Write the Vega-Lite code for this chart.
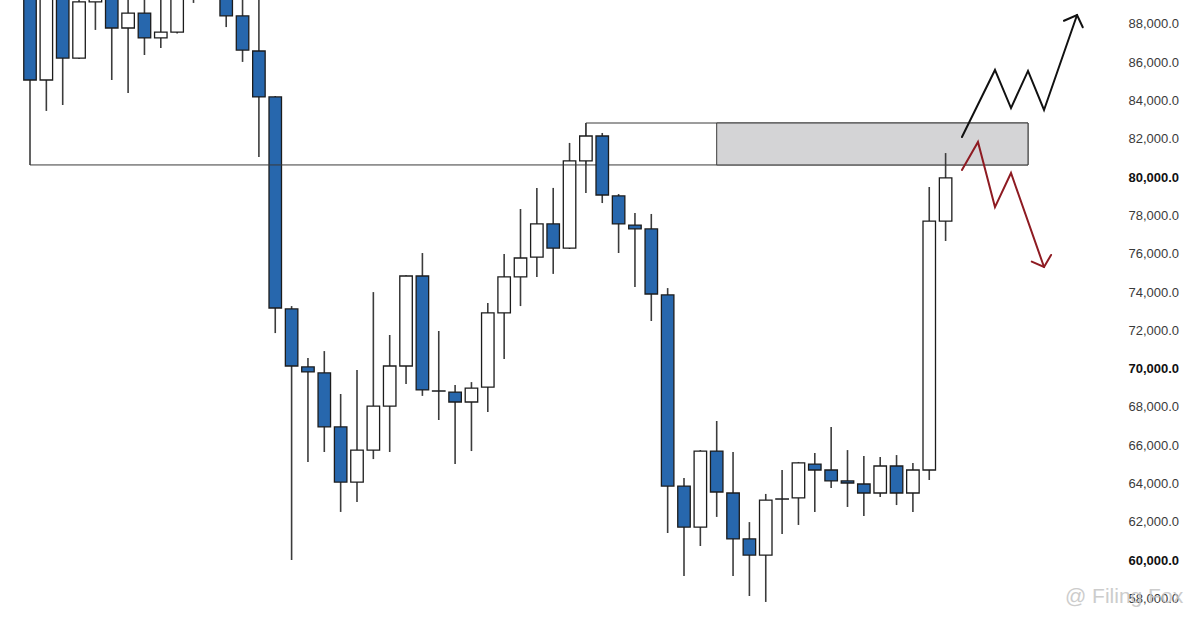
{
  "$schema": "https://vega.github.io/schema/vega-lite/v6.json",
  "width": 1128,
  "height": 621,
  "autosize": "none",
  "padding": {"left": 0, "top": 0, "right": 72, "bottom": 0},
  "background": "white",
  "config": {"view": {"stroke": null}, "font": "Liberation Sans"},
  "resolve": {"axis": {"y": "independent", "x": "independent"}},
  "datasets": {
    "candles": [
      {"i":0,"o":91000,"h":91500,"l":80640,"c":85075},
      {"i":1,"o":85075,"h":91500,"l":83460,"c":90500},
      {"i":2,"o":90200,"h":91000,"l":83770,"c":86220},
      {"i":3,"o":86220,"h":89400,"l":86170,"c":89150},
      {"i":4,"o":89150,"h":90200,"l":87690,"c":89800},
      {"i":5,"o":90500,"h":91000,"l":85075,"c":87790},
      {"i":6,"o":87790,"h":90000,"l":84400,"c":88570},
      {"i":7,"o":88570,"h":89800,"l":86380,"c":87270},
      {"i":8,"o":87270,"h":89500,"l":86750,"c":87580},
      {"i":9,"o":87580,"h":90500,"l":87500,"c":90000},
      {"i":10,"o":90800,"h":91200,"l":89100,"c":89700},
      {"i":11,"o":91500,"h":92000,"l":89600,"c":90500},
      {"i":12,"o":90000,"h":90500,"l":87840,"c":88420},
      {"i":13,"o":88420,"h":89800,"l":86020,"c":86640},
      {"i":14,"o":86590,"h":89600,"l":81060,"c":84190},
      {"i":15,"o":84190,"h":84240,"l":71860,"c":73170},
      {"i":16,"o":73120,"h":73270,"l":60010,"c":70140},
      {"i":17,"o":70090,"h":70560,"l":65130,"c":69830},
      {"i":18,"o":69780,"h":70920,"l":65650,"c":66960},
      {"i":19,"o":66960,"h":68680,"l":62520,"c":64080},
      {"i":20,"o":64080,"h":69930,"l":63040,"c":65750},
      {"i":21,"o":65750,"h":74000,"l":65280,"c":68050},
      {"i":22,"o":68050,"h":71760,"l":65650,"c":70140},
      {"i":23,"o":70140,"h":74880,"l":69200,"c":74840},
      {"i":24,"o":74840,"h":76040,"l":68580,"c":68890},
      {"i":25,"o":68840,"h":71970,"l":67320,"c":68830},
      {"i":26,"o":68780,"h":69150,"l":65020,"c":68260},
      {"i":27,"o":68260,"h":69300,"l":65700,"c":68990},
      {"i":28,"o":69040,"h":73430,"l":67740,"c":72910},
      {"i":29,"o":72910,"h":75990,"l":70510,"c":74790},
      {"i":30,"o":74790,"h":78340,"l":73270,"c":75780},
      {"i":31,"o":75830,"h":79440,"l":74790,"c":77560},
      {"i":32,"o":77560,"h":79440,"l":74950,"c":76300},
      {"i":33,"o":76300,"h":81790,"l":76250,"c":80850},
      {"i":34,"o":80850,"h":82830,"l":79180,"c":82150},
      {"i":35,"o":82150,"h":82310,"l":78650,"c":79070},
      {"i":36,"o":79020,"h":79120,"l":76040,"c":77560},
      {"i":37,"o":77500,"h":78130,"l":74270,"c":77300},
      {"i":38,"o":77300,"h":78080,"l":72490,"c":73900},
      {"i":39,"o":73850,"h":74210,"l":61420,"c":63870},
      {"i":40,"o":63870,"h":64290,"l":59170,"c":61730},
      {"i":41,"o":61730,"h":65750,"l":60740,"c":65700},
      {"i":42,"o":65700,"h":67270,"l":62260,"c":63560},
      {"i":43,"o":63510,"h":65650,"l":59170,"c":61110},
      {"i":44,"o":61110,"h":61990,"l":58130,"c":60270},
      {"i":45,"o":60270,"h":63460,"l":57820,"c":63140},
      {"i":46,"o":63200,"h":64710,"l":61370,"c":63190},
      {"i":47,"o":63250,"h":65130,"l":61840,"c":65080},
      {"i":48,"o":65020,"h":65600,"l":62520,"c":64710},
      {"i":49,"o":64710,"h":66960,"l":63770,"c":64140},
      {"i":50,"o":64140,"h":65750,"l":62780,"c":64030},
      {"i":51,"o":63980,"h":65440,"l":62310,"c":63510},
      {"i":52,"o":63510,"h":65390,"l":63300,"c":64920},
      {"i":53,"o":64920,"h":65490,"l":62880,"c":63510},
      {"i":54,"o":63510,"h":65080,"l":62520,"c":64710},
      {"i":55,"o":64710,"h":79490,"l":64190,"c":77710},
      {"i":56,"o":77710,"h":81260,"l":76670,"c":79960}
    ],
    "zones": [
      {"x1":34,"x2":61.04,"y1":80640,"y2":82830,"part":"left"},
      {"x1":42,"x2":61.04,"y1":80640,"y2":82830,"part":"right"}
    ],
    "level": [{"x1":0,"x2":34,"y":80640}],
    "arrows": [
      {"arrow":"up","seg":"u","ord":1,"x":57.0,"y":82100},
      {"arrow":"up","seg":"u","ord":2,"x":59.02,"y":85600},
      {"arrow":"up","seg":"u","ord":3,"x":60.0,"y":83610},
      {"arrow":"up","seg":"u","ord":4,"x":61.04,"y":85550},
      {"arrow":"up","seg":"u","ord":5,"x":62.02,"y":83510},
      {"arrow":"up","seg":"u","ord":6,"x":64.04,"y":88470},
      {"arrow":"up","seg":"uh","ord":1,"x":63.24,"y":88170},
      {"arrow":"up","seg":"uh","ord":2,"x":64.04,"y":88470},
      {"arrow":"up","seg":"uh","ord":3,"x":64.39,"y":87830},
      {"arrow":"down","seg":"d","ord":1,"x":57.0,"y":80380},
      {"arrow":"down","seg":"d","ord":2,"x":57.98,"y":81840},
      {"arrow":"down","seg":"d","ord":3,"x":59.02,"y":78440},
      {"arrow":"down","seg":"d","ord":4,"x":60.0,"y":80220},
      {"arrow":"down","seg":"d","ord":5,"x":62.02,"y":75310},
      {"arrow":"down","seg":"dh","ord":1,"x":61.27,"y":75590},
      {"arrow":"down","seg":"dh","ord":2,"x":62.02,"y":75310},
      {"arrow":"down","seg":"dh","ord":3,"x":62.45,"y":75940}
    ],
    "mark": [{"x":63.3,"y":58080,"t":"@ Filing Fox"}]
  },
  "layer": [
    {
      "data": {"name": "zones"},
      "mark": {"type": "rect", "stroke": "#3a3a3a", "strokeWidth": 1},
      "encoding": {
        "x": {"field": "x1", "type": "quantitative", "scale": {"domain": [-1.835, 67.156], "nice": false, "zero": false, "padding": 0}, "axis": null},
        "x2": {"field": "x2"},
        "y": {"field": "y1", "type": "quantitative", "scale": {"domain": [56825, 89253], "nice": false, "zero": false, "padding": 0},
          "axis": {"orient": "right", "title": null, "ticks": false, "domain": false, "grid": false,
            "values": [58000,60000,62000,64000,66000,68000,70000,72000,74000,76000,78000,80000,82000,84000,86000,88000],
            "format": ",.1f", "labelFontSize": 13, "labelPadding": 0, "labelFont": "Liberation Sans",
            "labelColor": {"condition": {"test": "datum.value % 10000 === 0", "value": "#111111"}, "value": "#3a3a3a"},
            "labelFontWeight": {"condition": {"test": "datum.value % 10000 === 0", "value": "bold"}, "value": "normal"}}},
        "y2": {"field": "y2"},
        "fill": {"field": "part", "type": "nominal", "scale": {"domain": ["left", "right"], "range": ["#ffffff", "#d4d4d6"]}, "legend": null}
      }
    },
    {
      "data": {"name": "candles"},
      "mark": {"type": "rule", "color": "#3c3c3c", "strokeWidth": 1.6, "clip": true},
      "encoding": {
        "x": {"field": "i", "type": "quantitative", "axis": null},
        "y": {"field": "l", "type": "quantitative", "axis": null},
        "y2": {"field": "h"}
      }
    },
    {
      "data": {"name": "candles"},
      "mark": {"type": "bar", "width": 12.5, "stroke": "#1c1c1c", "strokeWidth": 1.3, "clip": true},
      "encoding": {
        "x": {"field": "i", "type": "quantitative", "axis": null},
        "y": {"field": "o", "type": "quantitative", "axis": null},
        "y2": {"field": "c"},
        "fill": {"condition": {"test": "datum.c > datum.o", "value": "#ffffff"}, "value": "#2767ad"}
      }
    },
    {
      "data": {"name": "level"},
      "mark": {"type": "rule", "color": "#3a3a3a", "strokeWidth": 1},
      "encoding": {
        "x": {"field": "x1", "type": "quantitative", "axis": null},
        "x2": {"field": "x2"},
        "y": {"field": "y", "type": "quantitative", "axis": null}
      }
    },
    {
      "data": {"name": "arrows"},
      "mark": {"type": "line", "strokeWidth": 2, "strokeJoin": "miter", "strokeCap": "round"},
      "encoding": {
        "x": {"field": "x", "type": "quantitative", "axis": null},
        "y": {"field": "y", "type": "quantitative", "axis": null},
        "detail": {"field": "seg"},
        "order": {"field": "ord"},
        "color": {"field": "arrow", "type": "nominal", "scale": {"domain": ["up", "down"], "range": ["#111111", "#8e1b22"]}, "legend": null}
      }
    },
    {
      "data": {"name": "mark"},
      "mark": {"type": "text", "align": "left", "baseline": "middle", "fontSize": 21, "color": "#c4c4c4", "opacity": 0.85},
      "encoding": {
        "x": {"field": "x", "type": "quantitative", "axis": null},
        "y": {"field": "y", "type": "quantitative", "axis": null},
        "text": {"field": "t"}
      }
    }
  ]
}
